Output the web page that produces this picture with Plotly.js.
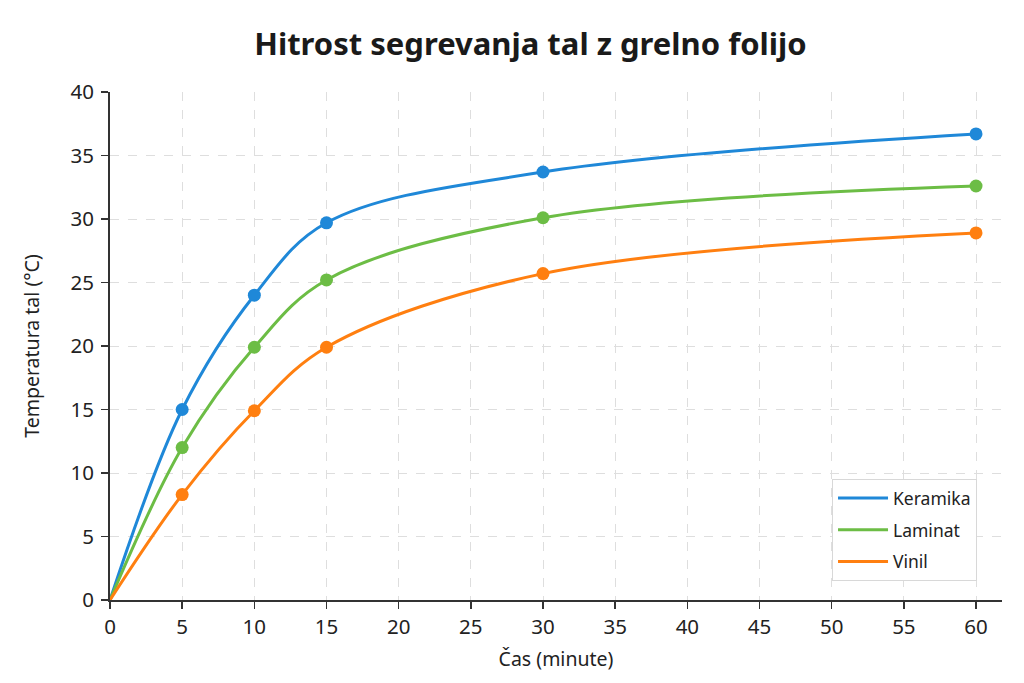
<!DOCTYPE html>
<html>
<head>
<meta charset="utf-8">
<script src="https://cdn.plot.ly/plotly-3.0.1.min.js"></script>
<style>html,body{margin:0;padding:0;background:#fff;}#chart{width:1024px;height:683px;}</style>
</head>
<body>
<div id="chart"></div>
<script>
const casMin = [0, 5, 10, 15, 30, 60];
const keramika = [0, 15.0, 24.0, 29.7, 33.7, 36.7];
const laminat = [0, 12.0, 19.9, 25.2, 30.1, 32.6];
const vinil = [0, 8.3, 14.9, 19.9, 25.7, 28.9];
const seriesNames = ["Keramika", "Laminat", "Vinil"];
const colors = ["#1f88d8", "#6cbd45", "#ff7f10"];
const xTicks = [0,5,10,15,20,25,30,35,40,45,50,55,60];
const yTicks = [0,5,10,15,20,25,30,35,40];

const seriesData = [keramika, laminat, vinil];
const lineTraces = seriesData.map((ys, i) => ({
  x: casMin, y: ys, name: seriesNames[i], type: "scatter", mode: "lines",
  line: {color: colors[i], width: 3, shape: "spline", smoothing: 1},
  legendgroup: "g" + i, cliponaxis: false
}));
const markerTraces = seriesData.map((ys, i) => ({
  x: casMin.slice(1), y: ys.slice(1), name: seriesNames[i], type: "scatter", mode: "markers",
  marker: {color: colors[i], size: 13, opacity: 1, line: {width: 0}},
  legendgroup: "g" + i, showlegend: false, cliponaxis: false
}));

const font = "'Noto Sans', 'Open Sans', sans-serif";
const layout = {
  width: 1024, height: 683,
  margin: {l: 110, r: 22, t: 92, b: 83},
  paper_bgcolor: "#fff", plot_bgcolor: "#fff",
  font: {family: font, color: "#222", size: 20},
  title: {text: "<b>Hitrost segrevanja tal z grelno folijo</b>", x: 0.518, xanchor: "center", y: 0.935, yanchor: "middle",
    font: {size: 31, family: font, color: "#1a1a1a"}},
  xaxis: {
    range: [0, 61.8], tickvals: xTicks, ticktext: xTicks.map(String),
    showline: true, linecolor: "#333", linewidth: 2,
    ticks: "outside", ticklen: 7, tickcolor: "#333", tickwidth: 1.5,
    showgrid: true, gridcolor: "#dedede", griddash: "dash", gridwidth: 1,
    zeroline: false, tickfont: {size: 20.5},
    title: {text: "Čas (minute)", font: {size: 19.5}, standoff: 14}
  },
  yaxis: {
    range: [0, 40], tickvals: yTicks, ticktext: yTicks.map(String),
    showline: true, linecolor: "#333", linewidth: 2,
    ticks: "outside", ticklen: 7, tickcolor: "#333", tickwidth: 1.5,
    showgrid: true, gridcolor: "#dedede", griddash: "dash", gridwidth: 1,
    zeroline: false, tickfont: {size: 20.5}, ticklabelstandoff: 3,
    title: {text: "Temperatura tal (°C)", font: {size: 19.5}, standoff: 26}
  },
  legend: {
    x: 0.972, xanchor: "right", y: 0.037, yanchor: "bottom",
    bgcolor: "#fff", bordercolor: "#d8d8d8", borderwidth: 1,
    font: {size: 17.5}, traceorder: "grouped", tracegroupgap: 6, itemwidth: 50
  },
  showlegend: true
};
Plotly.newPlot("chart", lineTraces.concat(markerTraces), layout, {displayModeBar: false, staticPlot: true});
</script>
</body>
</html>
